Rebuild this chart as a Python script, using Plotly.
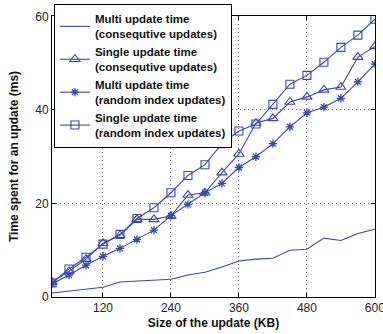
import plotly.graph_objects as go

sizes_kb = [30, 60, 90, 120, 150, 180, 210, 240, 270, 300, 330, 360, 390, 420, 450, 480, 510, 540, 570, 600]

multi_consecutive = [0.85, 1.3, 1.7, 2.1, 3.2, 3.4, 3.6, 3.8, 4.7, 5.3, 6.4, 7.7, 8.1, 8.3, 10.0, 10.2, 12.6, 12.1, 13.6, 14.5]
single_consecutive = [3.2, 5.5, 8.1, 11.5, 13.2, 16.6, 16.6, 17.3, 21.8, 22.3, 26.6, 30.6, 37.2, 38.2, 41.7, 42.8, 44.3, 44.9, 51.3, 53.6]
multi_random = [2.8, 4.7, 6.8, 8.7, 10.4, 12.3, 14.3, 17.4, 19.8, 22.3, 24.3, 27.7, 30.0, 32.8, 36.4, 39.4, 40.6, 42.5, 46.0, 49.8]
single_random = [3.0, 6.0, 8.5, 11.3, 13.4, 16.8, 19.1, 22.3, 26.0, 28.3, 32.8, 35.5, 37.0, 41.2, 45.5, 47.4, 50.2, 53.4, 56.0, 59.4]

names = [
    "Multi update time<br>(consequtive updates)",
    "Single update time<br>(consequtive updates)",
    "Multi update time<br>(random index updates)",
    "Single update time<br>(random index updates)",
]
x_ticks = [120, 240, 360, 480, 600]
y_ticks = [0, 20, 40, 60]

BLUE = "rgb(55,72,182)"
FONT = "Liberation Sans, Arial"


def bold(name):
    return "<b>" + name.replace("<br>", "</b><br><b>") + "</b>"


fig = go.Figure()
fig.add_trace(go.Scatter(x=sizes_kb, y=multi_consecutive, name=bold(names[0]), mode="lines",
                         line=dict(color=BLUE, width=1.1)))
fig.add_trace(go.Scatter(x=sizes_kb, y=single_consecutive, name=bold(names[1]), mode="lines+markers",
                         line=dict(color=BLUE, width=1.1),
                         marker=dict(symbol="triangle-up-open", size=9, color=BLUE, line=dict(width=1.1))))
fig.add_trace(go.Scatter(x=sizes_kb, y=multi_random, name=bold(names[2]), mode="lines+markers",
                         line=dict(color=BLUE, width=1.1),
                         marker=dict(symbol="asterisk-open", size=7, color=BLUE, line=dict(width=1.3, color=BLUE))))
fig.add_trace(go.Scatter(x=sizes_kb, y=single_random, name=bold(names[3]), mode="lines+markers",
                         line=dict(color=BLUE, width=1.1),
                         marker=dict(symbol="square-open", size=8, color=BLUE, line=dict(width=1.1))))

axis_common = dict(
    showline=True, linecolor="black", linewidth=1, mirror="ticks",
    ticks="inside", ticklen=4, tickcolor="black",
    showgrid=True, gridcolor="rgb(110,110,110)", griddash="1px,3px", gridwidth=1,
    zeroline=False,
    tickfont=dict(family=FONT, size=12, color="#222"),
    ticklabeloverflow="allow",
)

fig.update_xaxes(range=[30, 600.2], tickvals=x_ticks, ticktext=[str(v) for v in x_ticks],
                 title=dict(text="<b>Size of the update (KB)</b>", font=dict(family=FONT, size=12, color="#111"), standoff=4),
                 **axis_common)
fig.update_yaxes(range=[0, 60.1], tickvals=y_ticks, ticktext=[str(v) for v in y_ticks],
                 title=dict(text="<b>Time spent for an update (ms)</b>", font=dict(family=FONT, size=12, color="#111"), standoff=14),
                 **axis_common)

fig.update_layout(
    width=383, height=334,
    margin=dict(l=52, r=8, t=16, b=37, autoexpand=False),
    plot_bgcolor="white", paper_bgcolor="white",
    showlegend=True,
    legend=dict(x=0.006, y=1.043, xanchor="left", yanchor="top",
                bgcolor="white", bordercolor="black", borderwidth=1,
                font=dict(family=FONT, size=11.5, color="#111"),
                tracegroupgap=0, itemwidth=30),
)

fig.write_html("out.html", config={"displayModeBar": False},
               post_script="document.body.style.margin='0';document.body.style.overflow='hidden';")
